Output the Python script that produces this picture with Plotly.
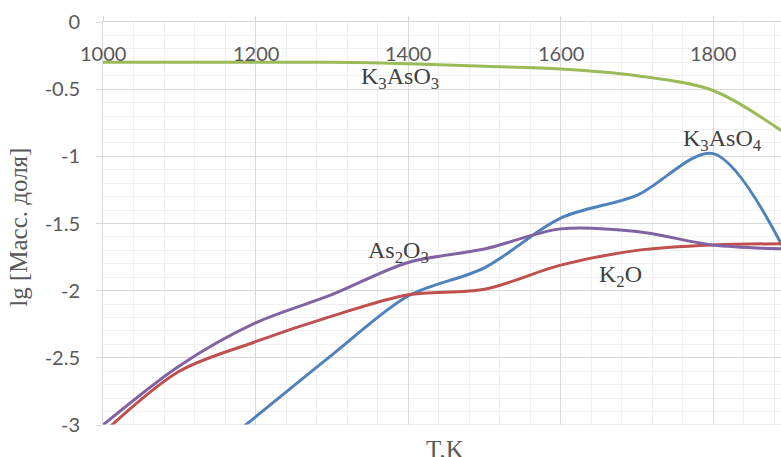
import plotly.graph_objects as go

T = [1000, 1100, 1200, 1300, 1400, 1500, 1600, 1700, 1800, 1900]
k3aso3 = [-0.30, -0.30, -0.30, -0.30, -0.31, -0.33, -0.35, -0.40, -0.51, -0.85]
as2o3 = [-3.00, -2.56, -2.24, -2.03, -1.79, -1.69, -1.54, -1.56, -1.66, -1.69]
k2o = [-3.06, -2.60, -2.38, -2.19, -2.03, -1.99, -1.81, -1.70, -1.66, -1.65]
T_k3aso4 = [1100, 1200, 1300, 1400, 1500, 1600, 1700, 1800, 1900]
k3aso4 = [-3.40, -2.94, -2.48, -2.04, -1.83, -1.46, -1.29, -0.98, -1.77]

x_ticks = [1000, 1200, 1400, 1600, 1800]
y_ticks = [0, -0.5, -1, -1.5, -2, -2.5, -3]
y_tick_text = ["0", "-0.5", "-1", "-1.5", "-2", "-2.5", "-3"]

labels = ["K<sub>3</sub>AsO<sub>3</sub>", "K<sub>3</sub>AsO<sub>4</sub>",
          "As<sub>2</sub>O<sub>3</sub>", "K<sub>2</sub>O"]
label_x = [1389, 1812, 1387, 1678]
label_y = [-0.42, -0.88, -1.71, -1.89]

fig = go.Figure()
series = [
    (T, k3aso3, "#9BBB59"),
    (T_k3aso4, k3aso4, "#4F81BD"),
    (T, k2o, "#C0504D"),
    (T, as2o3, "#8064A2"),
]
for xs, ys, c in series:
    fig.add_trace(go.Scatter(x=xs, y=ys, mode="lines",
                             line=dict(color=c, width=3, shape="spline", smoothing=0.9),
                             showlegend=False, hoverinfo="skip"))

for t, x, y in zip(labels, label_x, label_y):
    fig.add_annotation(x=x, y=y, text=t, showarrow=False,
                       font=dict(family="Liberation Serif", size=24, color="#404040"))

for xv in x_ticks:
    fig.add_annotation(x=xv, y=-0.23, text=str(xv), showarrow=False,
                       xanchor="center", yanchor="middle",
                       font=dict(family="Lato", size=20, color="#595959"))

fig.add_annotation(xref="paper", yref="paper", x=-0.125, y=0.49, xanchor="center", yanchor="middle",
                   text="lg [Масс. доля]", textangle=-90, showarrow=False,
                   font=dict(family="Liberation Serif", size=25, color="#595959"))
fig.add_annotation(xref="paper", yref="paper", x=0.505, y=-0.022, xanchor="center", yanchor="top",
                   text="T,K", showarrow=False,
                   font=dict(family="Liberation Serif", size=25, color="#595959"))

fig.update_layout(
    width=781, height=457,
    margin=dict(l=103, r=0, t=22, b=32, autoexpand=False),
    paper_bgcolor="white", plot_bgcolor="white",
    font=dict(family="Lato", size=20, color="#595959"),
)
fig.update_xaxes(range=[1000, 1889], side="top", tick0=1000, dtick=200,
                 showticklabels=False, automargin=False,
                 ticks="outside", ticklen=5, tickcolor="#D9D9D9",
                 showgrid=True, gridcolor="#D9D9D9", gridwidth=1,
                 minor=dict(dtick=40, tick0=1000, showgrid=True, gridcolor="#F0F0F0"),
                 showline=True, linecolor="#D9D9D9", linewidth=1, zeroline=False)
fig.update_yaxes(range=[-3, 0], tickvals=y_ticks, ticktext=y_tick_text,
                 automargin=False, ticklabelstandoff=12,
                 ticks="outside", ticklen=6, tickcolor="#D9D9D9",
                 showgrid=True, gridcolor="#D9D9D9", gridwidth=1,
                 minor=dict(dtick=0.1, tick0=0, showgrid=True, gridcolor="#F0F0F0"),
                 showline=True, linecolor="#D9D9D9", linewidth=1, zeroline=False)
fig.add_shape(type="line", xref="paper", yref="y", x0=0, x1=1, y0=-3, y1=-3,
              line=dict(color="#D9D9D9", width=1))

fig.write_html("out.html", config={"displayModeBar": False})
with open("out.html", encoding="utf-8") as f:
    html = f.read()
html = html.replace("<head>", "<head><style>html,body{margin:0;padding:0;overflow:hidden;}</style>", 1)
with open("out.html", "w", encoding="utf-8") as f:
    f.write(html)
